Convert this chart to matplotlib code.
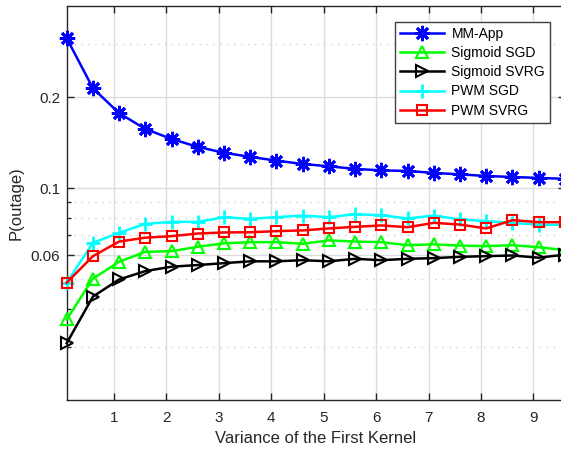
import numpy as np
import matplotlib
matplotlib.use('Agg')
import matplotlib.pyplot as plt
from matplotlib.ticker import FixedLocator, NullFormatter

plt.rcParams['font.family'] = ['Liberation Sans', 'DejaVu Sans']

# ---------------- data ----------------
variance = [0.1, 0.6, 1.1, 1.6, 2.1, 2.6, 3.1, 3.6, 4.1, 4.6,
            5.1, 5.6, 6.1, 6.6, 7.1, 7.6, 8.1, 8.6, 9.1, 9.6]
mm_app = [0.313, 0.214, 0.177, 0.157, 0.1455, 0.137, 0.131, 0.127, 0.1234, 0.1203,
          0.1182, 0.1159, 0.1146, 0.1141, 0.1124, 0.1112, 0.1098, 0.1090, 0.1082, 0.1075]
sigmoid_sgd = [0.0369, 0.0503, 0.0572, 0.0617, 0.0620, 0.0641, 0.0658, 0.0664, 0.0664, 0.0656,
               0.0673, 0.0667, 0.0664, 0.0649, 0.0653, 0.0647, 0.0644, 0.0649, 0.0639, 0.0625]
sigmoid_svrg = [0.0308, 0.0439, 0.0500, 0.0533, 0.0551, 0.0558, 0.0566, 0.0574, 0.0574, 0.0579,
                0.0574, 0.0585, 0.0579, 0.0585, 0.0588, 0.0594, 0.0597, 0.0600, 0.0590, 0.0604]
pwm_sgd = [0.0488, 0.0661, 0.0713, 0.0763, 0.0775, 0.0775, 0.0802, 0.0793, 0.0803, 0.0813,
           0.0803, 0.0821, 0.0815, 0.0795, 0.0813, 0.0789, 0.0779, 0.0769, 0.0759, 0.0757]
pwm_svrg = [0.0488, 0.0597, 0.0667, 0.0687, 0.0695, 0.0709, 0.0715, 0.0716, 0.0722, 0.0726,
            0.0737, 0.0746, 0.0754, 0.0744, 0.0769, 0.0759, 0.0737, 0.0785, 0.0773, 0.0773]

y_major = [0.06, 0.1, 0.2]
y_major_labels = ['0.06', '0.1', '0.2']
y_minor = [0.03, 0.04, 0.05, 0.07, 0.08, 0.09, 0.3]
x_ticks = [1, 2, 3, 4, 5, 6, 7, 8, 9]

# ---------------- plot ----------------
fig = plt.figure(figsize=(5.61, 4.55), dpi=100)
ax = fig.add_axes([0.1189, 0.1209, 0.888, 0.866])

lw = 1.8
common = dict(lw=lw, clip_on=False)
ax.plot(variance, mm_app, color=(0, 0, 1), marker=(8, 2, 0), ms=11, mew=2.0,
        label='MM-App', zorder=5, **common)
ax.plot(variance, sigmoid_sgd, color=(0, 1, 0), marker='^', ms=9, mew=1.5,
        mfc='none', label='Sigmoid SGD', zorder=4, **common)
ax.plot(variance, sigmoid_svrg, color='k', marker='>', ms=9, mew=1.5,
        mfc='none', label='Sigmoid SVRG', zorder=4, **common)
ax.plot(variance, pwm_sgd, color=(0, 1, 1), marker='+', ms=10, mew=2,
        label='PWM SGD', zorder=4, **common)
ax.plot(variance, pwm_svrg, color=(1, 0, 0), marker='s', ms=7, mew=1.5,
        mfc='none', label='PWM SVRG', zorder=4, **common)

ax.set_yscale('log')
ax.set_xlim(0.1, 9.6)
ax.set_ylim(0.02, 0.4)
ax.set_xticks(x_ticks)
ax.yaxis.set_major_locator(FixedLocator(y_major))
ax.set_yticklabels(y_major_labels)
ax.yaxis.set_minor_locator(FixedLocator(y_minor))
ax.yaxis.set_minor_formatter(NullFormatter())

ax.grid(True, which='major', color='#dcdcdc', lw=1, ls='-')
ax.grid(True, which='minor', axis='y', color='#cfcfcf', lw=1, ls=(0, (1, 4)))
ax.set_axisbelow(True)

ax.tick_params(which='both', direction='in', top=True, right=True,
               labelsize=11, colors='#262626', width=1)
ax.tick_params(which='major', length=5)
ax.tick_params(which='minor', length=3)
ax.tick_params(axis='x', pad=8)
ax.tick_params(axis='y', pad=4.5)
for s in ax.spines.values():
    s.set_color('#262626')
    s.set_linewidth(1)

ax.set_xlabel('Variance of the First Kernel', fontsize=12, color='#262626', labelpad=4)
ax.set_ylabel('P(outage)', fontsize=12, color='#262626', labelpad=5)

leg = ax.legend(loc='upper right', bbox_to_anchor=(0.970, 0.960), borderaxespad=0,
                fontsize=10, handlelength=3.2, handletextpad=0.5, borderpad=0.35,
                labelspacing=0.38, fancybox=False, framealpha=1, edgecolor='#404040')
leg.get_frame().set_linewidth(1)

fig.savefig('out.png', dpi=100)
